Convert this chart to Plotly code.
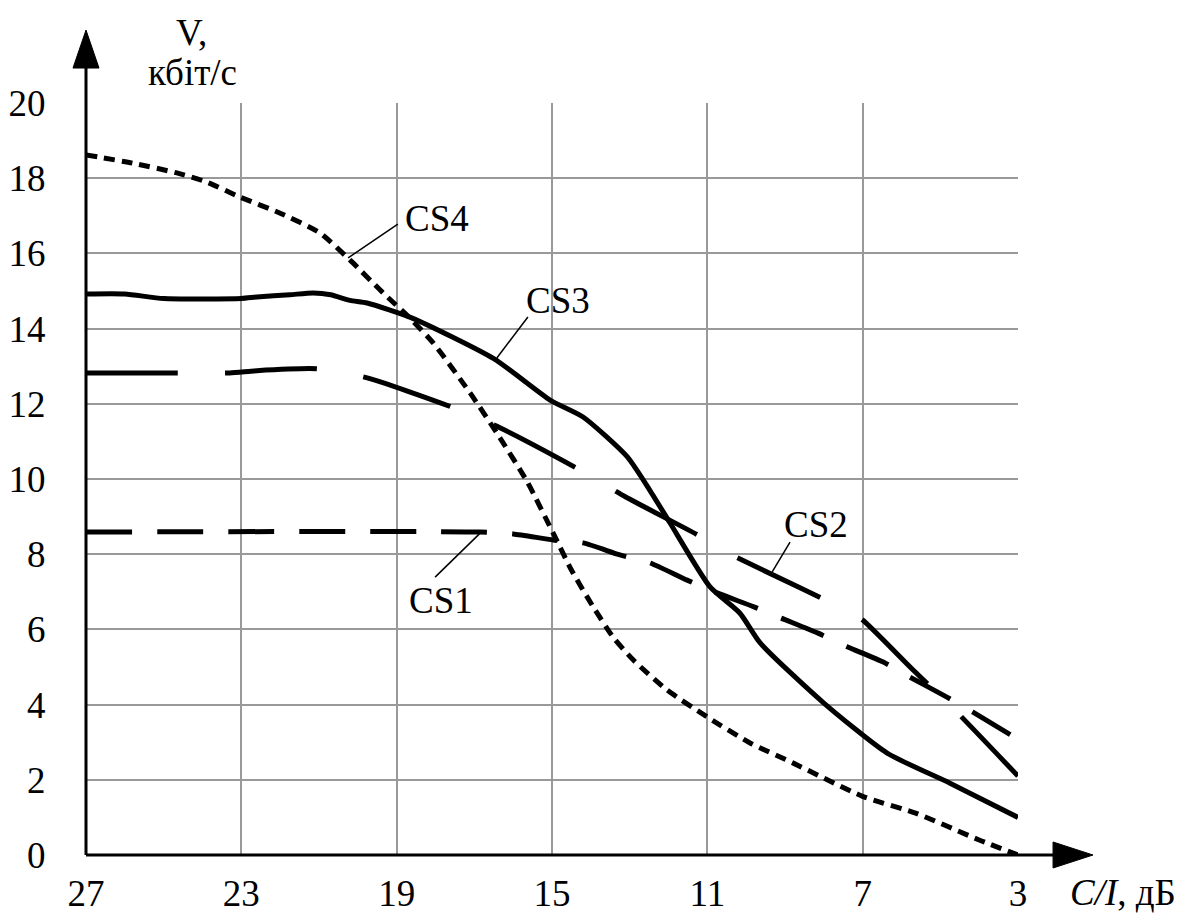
import plotly.graph_objects as go

# C/I, dB (x) and V, kbit/s (y)
cs1_x = [27, 16.85, 16.0, 14.97, 14.2, 13.25, 12.48, 11.52, 10.75, 9.8, 9.1, 8.15, 7.4, 6.47, 5.78, 4.83, 4.16, 3.2]
cs1_y = [8.59, 8.59, 8.54, 8.38, 8.3, 7.98, 7.77, 7.31, 6.97, 6.6, 6.3, 5.9, 5.54, 5.13, 4.73, 4.2, 3.8, 3.2]

cs2_x = [27, 24.7, 23.3, 22.6, 21.05, 19.76, 17.55, 16.34, 14.28, 13.1, 11.1, 10.6, 8.6, 7.3, 7.0, 5.7, 4.67, 3.0]
cs2_y = [12.82, 12.82, 12.82, 12.88, 12.93, 12.69, 11.9, 11.36, 10.24, 9.52, 8.43, 8.1, 7.1, 6.44, 6.25, 4.92, 3.9, 2.1]

cs3_x = [27, 26, 25, 23, 22.6, 21.75, 21.15, 20.7, 20.2, 19.76, 18.6, 16.5, 15.05, 14.2, 13.07, 12.48, 11.96,
         10.93, 10.16, 9.64, 8.0, 6.37, 4.75, 3]
cs3_y = [14.92, 14.92, 14.8, 14.8, 14.84, 14.9, 14.95, 14.9, 14.75, 14.68, 14.28, 13.2, 12.1, 11.65, 10.6, 9.7, 8.83,
         7.13, 6.43, 5.64, 4.04, 2.71, 1.91, 1.0]

cs4_x = [27, 25.8, 24.66, 23.9, 23.04, 22.0, 20.97, 20.2, 19.35, 18.66, 18.06, 17.11, 16.42, 15.64, 14.97, 14.5,
         13.94, 13.43, 12.91, 12.04, 11.0, 9.9, 8.8, 7.0, 5.6, 4.0, 3]
cs4_y = [18.62, 18.4, 18.14, 17.9, 17.5, 17.07, 16.54, 15.82, 14.95, 14.28, 13.62, 12.29, 11.22, 9.93, 8.56, 7.58,
         6.6, 5.8, 5.19, 4.39, 3.67, 2.98, 2.45, 1.56, 1.1, 0.4, 0]

x_ticks = [27, 23, 19, 15, 11, 7, 3]
y_ticks = [0, 2, 4, 6, 8, 10, 12, 14, 16, 18, 20]

# curve labels: name, text position, leader line start (on curve) and end
labels = [
    ("CS1", 17.86, 6.78, (16.85, 8.56), (18.01, 7.39)),
    ("CS2", 8.2, 8.78, (9.33, 7.53), (8.87, 8.32)),
    ("CS3", 14.84, 14.76, (16.42, 13.22), (15.62, 14.31)),
    ("CS4", 17.96, 16.94, (20.25, 15.88), (18.97, 16.78)),
]

FONT = "Times New Roman, Liberation Serif, serif"
FS = 37

fig = go.Figure()
curves = [
    (cs1_x, cs1_y, "46px,25px"),
    (cs2_x, cs2_y, "92px,47px"),
    (cs3_x, cs3_y, "solid"),
    (cs4_x, cs4_y, "11px,7px"),
]
for xs, ys, dash in curves:
    fig.add_trace(go.Scatter(
        x=xs, y=ys, mode="lines",
        line=dict(color="black", width=5, dash=dash, shape="spline", smoothing=0.6),
        showlegend=False, hoverinfo="skip", cliponaxis=False
    ))

for name, tx, ty, (x0, y0), (x1, y1) in labels:
    fig.add_shape(type="line", x0=x0, y0=y0, x1=x1, y1=y1,
                  line=dict(color="black", width=1.5))
    fig.add_annotation(x=tx, y=ty, text=name, showarrow=False,
                       xanchor="center", yanchor="middle",
                       font=dict(family=FONT, size=FS, color="black"))

# axes with arrows
fig.add_shape(type="line", xref="paper", yref="paper", x0=0, y0=0, x1=1.04, y1=0,
              line=dict(color="black", width=3), layer="above")
fig.add_shape(type="line", xref="paper", yref="paper", x0=0, y0=0, x1=0, y1=1.05,
              line=dict(color="black", width=3), layer="above")
fig.add_shape(type="path", xref="paper", yref="paper",
              path="M 1.0376 -0.0173 L 1.0805 0 L 1.0376 0.0173 Z",
              fillcolor="black", line=dict(color="black", width=1), layer="above")
fig.add_shape(type="path", xref="paper", yref="paper",
              path="M -0.01395 1.0465 L 0 1.097 L 0.01395 1.0465 Z",
              fillcolor="black", line=dict(color="black", width=1), layer="above")

# axis titles
fig.add_annotation(xref="paper", yref="paper", x=0.113, y=1.094,
                   xanchor="center", yanchor="middle", borderpad=0,
                   text="V,", showarrow=False,
                   font=dict(family=FONT, size=FS, color="black"))
fig.add_annotation(xref="paper", yref="paper", x=0.1148, y=1.04,
                   xanchor="center", yanchor="middle", borderpad=0,
                   text="кбіт/с", showarrow=False,
                   font=dict(family=FONT, size=FS, color="black"))
fig.add_annotation(xref="paper", yref="paper", x=1.1127, y=-0.05,
                   xanchor="center", yanchor="middle", borderpad=0,
                   text="<i>C/I</i>, дБ", showarrow=False,
                   font=dict(family=FONT, size=FS, color="black"))

# page body has an 8px default margin, so the figure is shrunk by that much
fig.update_layout(
    width=1178, height=905,
    margin=dict(l=78, r=168, t=95, b=58, autoexpand=False),
    plot_bgcolor="white", paper_bgcolor="white",
    font=dict(family=FONT, size=FS, color="black"),
    xaxis=dict(range=[27, 3], tickvals=x_ticks, showgrid=True, gridcolor="#999999", gridwidth=1.5,
               zeroline=False, showline=False, ticks="outside", ticklen=6, automargin=False,
               tickcolor="rgba(0,0,0,0)", tickfont=dict(family=FONT, size=FS)),
    yaxis=dict(range=[0, 20], tickvals=y_ticks, showgrid=True, gridcolor="#999999", gridwidth=1.5,
               zeroline=False, showline=False, ticks="outside", ticklen=32, automargin=False,
               tickcolor="rgba(0,0,0,0)", tickfont=dict(family=FONT, size=FS)),
)

fig.write_html("out.html")
